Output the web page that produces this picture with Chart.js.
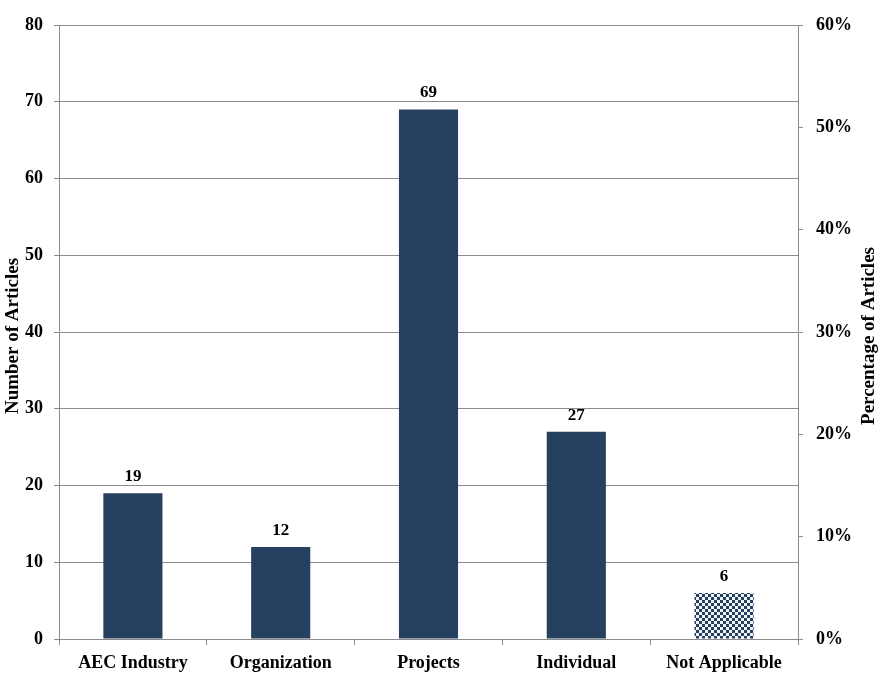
<!DOCTYPE html>
<html>
<head>
<meta charset="utf-8">
<script src="https://cdn.jsdelivr.net/npm/chart.js@4.4.1/dist/chart.umd.min.js"></script>
<style>
  html, body { margin: 0; padding: 0; background: #fff; }
  #wrap { width: 892px; height: 686px; }
</style>
</head>
<body>
<div id="wrap"><canvas id="articlesChart" width="892" height="686"></canvas></div>
<script>
const categories = ['AEC Industry', 'Organization', 'Projects', 'Individual', 'Not Applicable'];
const articleCounts = [19, 12, 69, 27, 6];
const leftTicks = [0, 10, 20, 30, 40, 50, 60, 70, 80];
const rightTicks = [0, 0.1, 0.2, 0.3, 0.4, 0.5, 0.6];

const barBlue = '#26405f';
const gridGray = '#8c8c8c';
const fontFamily = '"Liberation Serif", "Times New Roman", serif';

// checkered fill for the "Not Applicable" bar
function checkerPattern() {
    const c = document.createElement('canvas');
    c.width = 6; c.height = 6;
    const g = c.getContext('2d');
    g.fillStyle = '#eef3f8';
    g.fillRect(0, 0, 6, 6);
    g.fillStyle = barBlue;
    g.fillRect(0, 0, 3, 3);
    g.fillRect(3, 3, 3, 3);
    return g.createPattern(c, 'repeat');
}

const ctx = document.getElementById('articlesChart').getContext('2d');
const fills = articleCounts.map((v, i) => i === articleCounts.length - 1 ? checkerPattern() : barBlue);

const labelsPlugin = {
    id: 'labels',
    afterDatasetsDraw(chart) {
        const c = chart.ctx;
        const meta = chart.getDatasetMeta(0);
        c.save();
        c.font = 'bold 17px ' + fontFamily;
        c.fillStyle = '#000';
        c.textAlign = 'center';
        c.textBaseline = 'alphabetic';
        meta.data.forEach((bar, i) => {
            c.fillText(String(articleCounts[i]), bar.x, bar.y - 12);
        });
        c.restore();
        // axis titles
        const midY = (chart.chartArea.top + chart.chartArea.bottom) / 2 + 4;
        c.save();
        c.font = 'bold 19px ' + fontFamily;
        c.fillStyle = '#000';
        c.textAlign = 'center';
        c.textBaseline = 'middle';
        c.translate(13, midY);
        c.rotate(-Math.PI / 2);
        c.fillText('Number of Articles', 0, 0);
        c.restore();
        c.save();
        c.font = 'bold 19px ' + fontFamily;
        c.fillStyle = '#000';
        c.textAlign = 'center';
        c.textBaseline = 'middle';
        c.translate(869, midY);
        c.rotate(-Math.PI / 2);
        c.fillText('Percentage of Articles', 0, 0);
        c.restore();
    }
};

new Chart(ctx, {
    type: 'bar',
    data: {
        labels: categories,
        datasets: [{
            data: articleCounts,
            backgroundColor: fills,
            categoryPercentage: 1,
            barPercentage: 0.4,
            yAxisID: 'y'
        }]
    },
    options: {
        responsive: false,
        animation: false,
        devicePixelRatio: 1,
        layout: { padding: { top: 25, left: 0, right: 0, bottom: 0 } },
        plugins: { legend: { display: false }, tooltip: { enabled: false } },
        scales: {
            x: {
                grid: { offset: true, drawOnChartArea: false, color: gridGray, tickLength: 6 },
                border: { color: gridGray },
                ticks: { color: '#000', font: { family: fontFamily, size: 18, weight: 'bold' }, padding: 8, maxRotation: 0 },
                afterFit(s) { s.height = 47; }
            },
            y: {
                position: 'left',
                min: 0, max: 80,
                afterBuildTicks(s) { s.ticks = leftTicks.map(v => ({ value: v })); },
                grid: { color: gridGray, tickLength: 5 },
                border: { color: gridGray },
                ticks: { color: '#000', font: { family: fontFamily, size: 18, weight: 'bold' }, padding: 11 },
                afterFit(s) { s.width = 59; }
            },
            y1: {
                position: 'right',
                display: true,
                min: 0, max: 0.6,
                afterBuildTicks(s) { s.ticks = rightTicks.map(v => ({ value: v })); },
                grid: { drawOnChartArea: false, color: gridGray, tickLength: 5 },
                border: { color: gridGray },
                ticks: {
                    color: '#000', font: { family: fontFamily, size: 18, weight: 'bold' }, padding: 13,
                    callback: v => Math.round(v * 100) + '%'
                },
                afterFit(s) { s.width = 94; }
            }
        }
    },
    plugins: [labelsPlugin]
});
</script>
</body>
</html>
